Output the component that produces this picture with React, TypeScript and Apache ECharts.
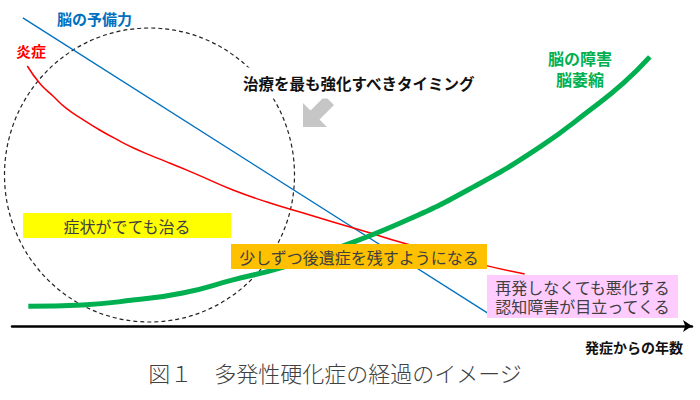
import React, { useEffect, useRef } from "react";
import * as echarts from "echarts";

// Conceptual scale: x = years since onset (0-100), y = level (0-100)
const reserveLine: number[][] = [
  [1.6, 96.3],
  [69.9, 4.1],
];
const inflammation: number[][] = [
  [2.25, 81.25],
  [4.1, 75.8],
  [6.1, 71.7],
  [8.0, 68.0],
  [10.5, 64.4],
  [12.9, 61.25],
  [15.4, 58.3],
  [17.8, 55.7],
  [20.3, 53.4],
  [22.75, 51.3],
  [24.7, 49.6],
  [27.6, 47.0],
  [32.5, 42.5],
  [37.5, 38.75],
  [42.35, 35.6],
  [47.2, 32.5],
  [52.2, 29.4],
  [56.0, 26.9],
  [62.9, 22.8],
  [69.3, 19.1],
  [75.4, 16.25],
];
const damage: number[][] = [
  [2.4, 6.2],
  [10.4, 6.6],
  [17.8, 8.1],
  [25.1, 10.3],
  [32.5, 14.4],
  [39.9, 18.4],
  [47.2, 23.8],
  [58.1, 33.1],
  [67.8, 43.4],
  [77.6, 55.9],
  [85.0, 67.5],
  [89.9, 75.9],
  [93.8, 84.1],
];

const reserveLabel = "脳の予備力";
const inflammationLabel = "炎症";
const damageLabel = ["脳の障害", "脳萎縮"];
const timingText = "治療を最も強化すべきタイミング";
const stage1 = "症状がでても治る";
const stage2 = "少しずつ後遺症を残すようになる";
const stage3 = ["再発しなくても悪化する", "認知障害が目立ってくる"];
const axisName = "発症からの年数";
const caption = "図１　多発性硬化症の経過のイメージ";

const FONT = '"Noto Sans CJK JP", "Noto Sans", sans-serif';

const txt = (
  x: number,
  y: number,
  text: string,
  size: number,
  fill: string,
  weight: any = "normal",
  align: string = "left",
  extra: any = {}
) => ({
  type: "text",
  z: 102,
  x,
  y,
  style: {
    text,
    fontFamily: FONT,
    fontSize: size,
    fontWeight: weight,
    fill,
    align,
    verticalAlign: "middle",
    lineHeight: Math.round(size * 1.1),
    ...extra,
  },
});

export default function App() {
  const ref = useRef<HTMLDivElement>(null);
  useEffect(() => {
    document.body.style.margin = "0";
    const chart = echarts.init(ref.current!, null, { renderer: "svg" });
    const rect = (x: number, y: number, w: number, h: number, fill: string) => ({
      type: "rect",
      z: 100,
      shape: { x, y, width: w, height: h },
      style: { fill },
    });
    chart.setOption({
      animation: false,
      grid: { left: 12, top: 6, width: 680, height: 320, containLabel: false },
      xAxis: {
        type: "value",
        min: 0,
        max: 100,
        axisLine: {
          show: true,
          onZero: false,
          symbol: ["none", "arrow"],
          symbolSize: [9, 9],
          lineStyle: { color: "#000", width: 2.5 },
        },
        axisTick: { show: false },
        axisLabel: { show: false },
        splitLine: { show: false },
      },
      yAxis: {
        type: "value",
        min: 0,
        max: 100,
        show: false,
        splitLine: { show: false },
      },
      series: [
        {
          name: reserveLabel,
          type: "line",
          data: reserveLine,
          symbol: "none",
          lineStyle: { color: "#0070C0", width: 1.3 },
          z: 3,
        },
        {
          name: inflammationLabel,
          type: "line",
          data: inflammation,
          smooth: 0.5,
          symbol: "none",
          lineStyle: { color: "#FF0000", width: 1.5 },
          z: 3,
        },
        {
          name: damageLabel.join(""),
          type: "line",
          data: damage,
          smooth: 0.5,
          symbol: "none",
          lineStyle: { color: "#00B050", width: 5 },
          z: 4,
        },
      ],
      graphic: [
        {
          type: "ellipse",
          z: 1,
          shape: { cx: 149.5, cy: 175, rx: 145, ry: 147 },
          style: { fill: "none", stroke: "#222", lineWidth: 1.2, lineDash: [4, 3] },
        },
        txt(57, 18, reserveLabel, 15, "#0070C0", "bold"),
        txt(16, 50, inflammationLabel, 15, "#FF0000", "bold"),
        txt(580, 58, damageLabel[0], 16, "#00B050", "bold", "center"),
        txt(580, 79, damageLabel[1], 16, "#00B050", "bold", "center"),
        txt(241, 83, timingText, 15.5, "#111", "bold", "left", {
          backgroundColor: "#fff",
          padding: [7, 2],
        }),
        {
          type: "polygon",
          z: 50,
          shape: {
            points: [
              [303, 127],
              [303, 103],
              [310.5, 110.5],
              [325, 96],
              [334, 105],
              [319.5, 119.5],
              [327, 127],
            ],
          },
          style: { fill: "#C6C6C6" },
        },
        rect(23, 213, 208, 25, "#FFFF00"),
        txt(127, 225.5, stage1, 16, "#404040", "normal", "center"),
        rect(231, 244, 256, 25, "#FFC000"),
        txt(359, 256.5, stage2, 16, "#404040", "normal", "center"),
        rect(487, 275, 191, 43, "#FFCCFF"),
        txt(582.5, 287, stage3[0], 16, "#404040", "normal", "center"),
        txt(582.5, 306, stage3[1], 16, "#404040", "normal", "center"),
        txt(683, 347, axisName, 14, "#111", "bold", "right"),
        txt(335, 372, caption, 22, "#404040", 300, "center"),
      ],
    });
    return () => chart.dispose();
  }, []);
  return <div ref={ref} style={{ width: 700, height: 400 }} />;
}
